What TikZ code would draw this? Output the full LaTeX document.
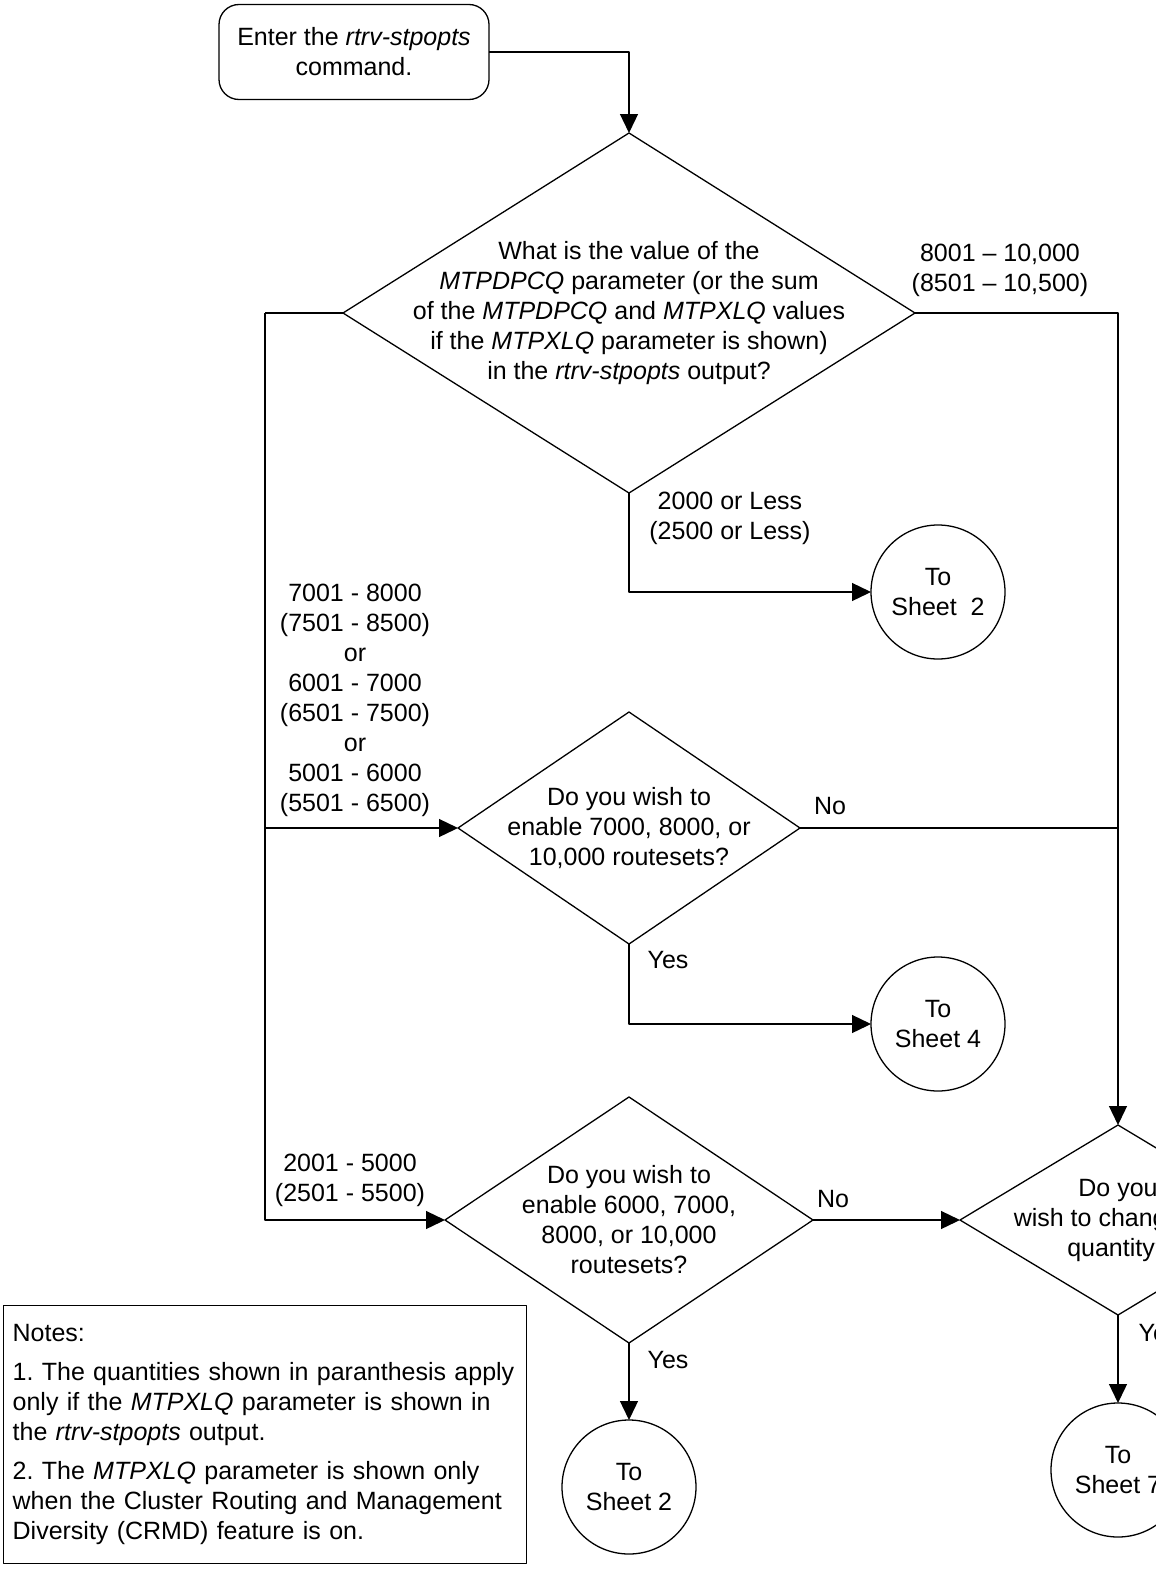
\documentclass[tikz,border=0pt]{standalone}
\usepackage{fontspec}
\setmainfont{Liberation Sans}
\usetikzlibrary{shapes.geometric,arrows.meta}
\frenchspacing
\hyphenpenalty=10000

\begin{document}
\begin{tikzpicture}[x=1pt, y=-1pt, font=\fontsize{25}{30}\selectfont, line join=round, line width=1.3pt,
	arr/.style={-{Triangle[length=19pt,width=18pt]}},
	startbox/.style={draw, rounded corners=20pt, minimum width=270pt, minimum height=95pt, align=center, outer sep=0pt},
	dec/.style={diamond, draw, inner sep=0pt, outer sep=0pt},
	sheet/.style={circle, draw, minimum size=134pt, inner sep=0pt, outer sep=0pt, align=center},
	txt/.style={align=center, inner sep=0pt}]
	\useasboundingbox (0,0) rectangle (1156,1571);
	\clip (0,0) rectangle (1156,1571);
	% nodes
	\node[startbox] (start) at (354,52) {Enter the \textit{rtrv-stpopts}\\command.};
	\node[dec, minimum width=572pt, minimum height=360pt,
		label={[txt]center:{What is the value of the\\\textit{MTPDPCQ} parameter (or the sum\\of the \textit{MTPDPCQ} and \textit{MTPXLQ} values\\if the \textit{MTPXLQ} parameter is shown)\\in the \textit{rtrv-stpopts} output?}}] (q1) at (629,313) {};
	\node[dec, minimum width=342pt, minimum height=232pt,
		label={[txt]center:{Do you wish to\\enable 7000, 8000, or\\10,000 routesets?}}] (q2) at (629,828) {};
	\node[dec, minimum width=368pt, minimum height=246pt,
		label={[txt]center:{Do you wish to\\enable 6000, 7000,\\8000, or 10,000\\routesets?}}] (q3) at (629,1220) {};
	\node[dec, minimum width=316pt, minimum height=190pt,
		label={[txt]center:{Do you\\wish to change the\\quantity?}}] (q4) at (1118,1220) {};
	\node[sheet] (s2a) at (938,592) {To\\Sheet\ \ 2};
	\node[sheet] (s4) at (938,1024) {To\\Sheet 4};
	\node[sheet] (s2b) at (629,1487) {To\\Sheet 2};
	\node[sheet] (s7) at (1118,1470) {To\\Sheet 7};
	\coordinate (lt) at (265,313);
	\coordinate (lm) at (265,828);
	% connectors
	\draw[arr] (start.east) -| (q1.north);
	\draw (q1.west) -- (lt);
	\draw[arr] (lt) |- (q3.west);
	\draw[arr] (lm) -- (q2.west);
	\draw[arr] (q1.east) -| (q4.north);
	\draw (q2.east) -- (q2.east -| q4.north);
	\draw[arr] (q1.south) |- (s2a.west);
	\draw[arr] (q2.south) |- (s4.west);
	\draw[arr] (q3.east) -- (q4.west);
	\draw[arr] (q3.south) -- (s2b.north);
	\draw[arr] (q4.south) -- (s7.north);
	% labels
	\node[txt] at (1000,270) {8001 -- 10,000\\(8501 -- 10,500)};
	\node[txt] at (730,518) {2000 or Less\\(2500 or Less)};
	\node[txt] at (355,700) {7001 - 8000\\(7501 - 8500)\\or\\6001 - 7000\\(6501 - 7500)\\or\\5001 - 6000\\(5501 - 6500)};
	\node[txt] at (350,1180) {2001 - 5000\\(2501 - 5500)};
	\node[txt] at (830,806) {No};
	\node[txt] at (668,960) {Yes};
	\node[txt] at (833,1199) {No};
	\node[txt] at (668,1360) {Yes};
	\node[txt] at (1159,1333) {Yes};
	\node[draw, anchor=north west, minimum width=523pt, minimum height=258pt, inner sep=9pt, text width=505pt, align=left] (notes) at (3,1305)
		{Notes:\\[9pt]1. The quantities shown in paranthesis apply\\only if the \textit{MTPXLQ} parameter is shown in\\the \textit{rtrv-stpopts} output.\\[9pt]2. The \textit{MTPXLQ} parameter is shown only\\when the Cluster Routing and Management\\Diversity (CRMD) feature is on.};
\end{tikzpicture}
\end{document}
